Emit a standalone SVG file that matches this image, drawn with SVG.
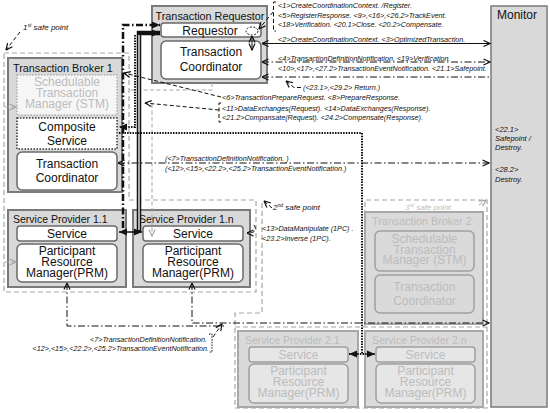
<svg xmlns="http://www.w3.org/2000/svg" width="550" height="413" viewBox="0 0 550 413">
<style>
text{font-family:"Liberation Sans",Arial,sans-serif;fill:#111}
.ti{font-size:10.8px}
.bg{font-size:12px;text-anchor:middle}
.lb{font-size:7.2px;font-style:italic}
.sp{font-size:8px;font-style:italic}
.fd{fill:#bcbcbc}
.outer{fill:#d9d9d9;stroke:#7a7a7a;stroke-width:2}
.outerf{fill:#dadada;stroke:#a8a8a8;stroke-width:2}
.inner{fill:#fff;stroke:#6a6a6a;stroke-width:1.5}
.innerf{fill:#e6e6e6;stroke:#a0a0a0;stroke-width:1.5}
.innerf2{fill:#dadada;stroke:#a0a0a0;stroke-width:1.5}
.region{fill:none;stroke:#a6a6a6;stroke-width:1.2;stroke-dasharray:5,3}
.c{fill:none;stroke:#111;stroke-width:1}
.dash{stroke-dasharray:4,2.5}
.dd{stroke-dasharray:7,2.5,1.5,2.5}
.dot{stroke-dasharray:1.5,1.2;stroke-width:2}
.g{stroke:#a6a6a6}
</style>
<defs>
<marker id="ao" viewBox="0 0 8 8" refX="7.5" refY="4" markerWidth="8" markerHeight="8" markerUnits="userSpaceOnUse" orient="auto-start-reverse"><path d="M1,1 L7.5,4 L1,7" fill="none" stroke="#111" stroke-width="1.2"/></marker>
<marker id="ag" viewBox="0 0 8 8" refX="7.5" refY="4" markerWidth="8" markerHeight="8" markerUnits="userSpaceOnUse" orient="auto-start-reverse"><path d="M1,1 L7.5,4 L1,7" fill="none" stroke="#a6a6a6" stroke-width="1.2"/></marker>
<marker id="as" viewBox="0 0 8 8" refX="8" refY="4" markerWidth="8" markerHeight="8" markerUnits="userSpaceOnUse" orient="auto-start-reverse"><path d="M0,0.5 L8,4 L0,7.5 z" fill="#111"/></marker>
</defs>

<!-- safe point regions -->
<g id="regions">
<path class="region" d="M4,53 H129 V200 H256 V292 H4 Z"/>
<path class="region" d="M262,203 V313 H235 V408 H487 V200 H365 V327"/>
<path class="region" d="M235,327 H487"/>
</g>

<g id="monitor">
<rect x="491" y="6" width="56" height="401" fill="#d9d9d9" stroke="#7a7a7a" stroke-width="1.5"/>
<text x="497" y="19" style="font-size:12px">Monitor</text>
<text class="lb" x="495" y="132" style="font-size:7.5px">&lt;22.1&gt;</text>
<text class="lb" x="495" y="141" style="font-size:7.5px">Safepoint /</text>
<text class="lb" x="495" y="150" style="font-size:7.5px">Destroy.</text>
<text class="lb" x="495" y="172" style="font-size:7.5px">&lt;28.2&gt;</text>
<text class="lb" x="495" y="182" style="font-size:7.5px">Destroy.</text>
</g>

<g id="transaction-requestor">
<rect class="outer" x="152" y="6" width="115" height="77"/>
<text class="ti" x="210" y="19.5" text-anchor="middle">Transaction Requestor</text>
<rect class="inner" x="161" y="23" width="100" height="14" rx="3"/>
<text class="bg" x="210" y="34.5">Requestor</text>
<rect class="inner" x="161" y="41" width="100" height="38" rx="5"/>
<text class="bg" x="211" y="56">Transaction</text>
<text class="bg" x="211" y="71">Coordinator</text>
</g>

<g id="transaction-broker-1">
<rect class="outer" x="8" y="58" width="114" height="134"/>
<text class="ti" x="13" y="72">Transaction Broker 1</text>
<rect x="17" y="75" width="100" height="40" fill="#f6f6f6" stroke="#b0b0b0" stroke-width="1.5" stroke-dasharray="1.5,1.5"/>
<text class="bg fd" x="67" y="86">Schedulable</text>
<text class="bg fd" x="67" y="97">Transaction</text>
<text class="bg fd" x="67" y="108">Manager (STM)</text>
<rect x="17" y="118" width="100" height="31" fill="#fff" stroke="#333" stroke-width="1.5" stroke-dasharray="1.5,1.5"/>
<text class="bg" x="67" y="131">Composite</text>
<text class="bg" x="67" y="145">Service</text>
<rect class="inner" x="17" y="152" width="100" height="38" rx="5"/>
<text class="bg" x="67" y="168">Transaction</text>
<text class="bg" x="67" y="182">Coordinator</text>
</g>

<g id="service-provider-1-1">
<rect class="outer" x="8" y="210" width="118" height="77"/>
<text class="ti" x="13" y="223" style="font-size:10.5px">Service Provider 1.1</text>
<rect class="inner" x="17" y="226" width="100" height="15" rx="3"/>
<text class="bg" x="67" y="238">Service</text>
<rect class="inner" x="17" y="244" width="100" height="38" rx="5"/>
<text class="bg" x="67" y="254.5">Participant</text>
<text class="bg" x="67" y="265.5">Resource</text>
<text class="bg" x="67" y="276.5">Manager(PRM)</text>
</g>

<g id="service-provider-1-n">
<rect class="outer" x="133" y="210" width="117" height="77"/>
<text class="ti" x="139" y="223" style="font-size:10.5px">Service Provider 1.n</text>
<rect class="inner" x="143" y="226" width="100" height="15" rx="3"/>
<text class="bg" x="193" y="238">Service</text>
<rect class="inner" x="143" y="244" width="100" height="38" rx="5"/>
<text class="bg" x="193" y="254.5">Participant</text>
<text class="bg" x="193" y="265.5">Resource</text>
<text class="bg" x="193" y="276.5">Manager(PRM)</text>
</g>

<g id="transaction-broker-2">
<rect class="outerf" x="365" y="212" width="118" height="112"/>
<text class="ti fd" x="372" y="224.5">Transaction Broker 2</text>
<rect class="innerf2" x="375" y="231" width="99" height="40" rx="5"/>
<text class="bg fd" x="424.5" y="243">Schedulable</text>
<text class="bg fd" x="424.5" y="253.5">Transaction</text>
<text class="bg fd" x="424.5" y="264">Manager (STM)</text>
<rect class="innerf2" x="375" y="275" width="99" height="38" rx="5"/>
<text class="bg fd" x="424.5" y="291">Transaction</text>
<text class="bg fd" x="424.5" y="305">Coordinator</text>
</g>

<g id="service-provider-2-1">
<rect class="outerf" x="238" y="331" width="120" height="76"/>
<text class="ti fd" x="245" y="344" style="font-size:10.5px">Service Provider 2.1</text>
<rect class="innerf" x="249" y="347" width="99" height="15" rx="3"/>
<text class="bg fd" x="298.5" y="358.5">Service</text>
<rect class="innerf" x="249" y="364" width="99" height="39" rx="5"/>
<text class="bg fd" x="298.5" y="375">Participant</text>
<text class="bg fd" x="298.5" y="386">Resource</text>
<text class="bg fd" x="298.5" y="397">Manager(PRM)</text>
</g>

<g id="service-provider-2-n">
<rect class="outerf" x="365" y="331" width="118" height="76"/>
<text class="ti fd" x="372" y="344" style="font-size:10.5px">Service Provider 2.n</text>
<rect class="innerf" x="376" y="347" width="99" height="15" rx="3"/>
<text class="bg fd" x="425.5" y="358.5">Service</text>
<rect class="innerf" x="376" y="364" width="99" height="39" rx="5"/>
<text class="bg fd" x="425.5" y="375">Participant</text>
<text class="bg fd" x="425.5" y="386">Resource</text>
<text class="bg fd" x="425.5" y="397">Manager(PRM)</text>
</g>

<g id="connectors">
<!-- gray dashed -->
<path class="c dash g" d="M212,83 V90 H130"/>
<path class="c dash g" d="M152,104 V236" marker-end="url(#ag)"/>
<path class="c dash g" d="M5,107 H16" marker-end="url(#ag)"/>
<path class="c dash g" d="M5,262 H16" marker-end="url(#ag)"/>
<!-- requestor thick connectors -->
<path class="c dd" style="stroke-width:2.5" d="M123,228 V25 H160" marker-end="url(#as)"/>
<path class="c" style="stroke-width:4.5" d="M139,232 V33 H160" marker-end="url(#as)"/>
<path d="M139,35 V230" stroke="#fff" stroke-width="1.3"/>
<path class="c" style="stroke-width:1.5" d="M119,232 H142" marker-start="url(#as)" marker-end="url(#as)"/>
<path class="c dot" d="M135,35 V127 H119" marker-end="url(#as)"/>
<path class="c dot" d="M119,133 H362 V354"/>
<path class="c dot" d="M349,354 H375" marker-start="url(#as)" marker-end="url(#as)"/>
<!-- requestor / monitor -->
<ellipse cx="252" cy="31" rx="6" ry="4" fill="none" stroke="#111" stroke-width="1" stroke-dasharray="2,1.5"/>
<path class="c" d="M252,36 V50" marker-start="url(#ao)" marker-end="url(#ao)"/>
<path class="c dash" d="M276,2 H273.5 V31 H276"/>
<path class="c dash" d="M273,12 L259,29" marker-end="url(#ao)"/>
<path class="c" d="M262,43.5 H490" marker-start="url(#ao)" marker-end="url(#ao)"/>
<path class="c dd" d="M262,62 H490" marker-start="url(#ao)" marker-end="url(#ao)"/>
<path class="c dd" d="M262,77 H490" marker-start="url(#ao)"/>
<path class="c dash" d="M301,87.5 L294,87.5 L286,81" marker-end="url(#ao)"/>
<!-- broker 1 labels -->
<path class="c dash" d="M221,97 L124,73" marker-end="url(#ao)"/>
<path class="c dash" d="M221,103 H219 V122 H221"/>
<path class="c dash" d="M219,110 L145,103" marker-end="url(#ao)"/>
<path class="c dd" d="M118,163 H489" marker-start="url(#ao)" marker-end="url(#ao)"/>
<!-- service provider 1.n local -->
<path class="c dash" d="M254,225 Q259,233 247,233" marker-end="url(#ao)"/>
<!-- PRM notifications -->
<path class="c dd" d="M67,283 V326 H226" marker-start="url(#ao)"/>
<path class="c dd" d="M192,283 V323 H489" marker-start="url(#ao)" marker-end="url(#ao)"/>
<path class="c" style="stroke-dasharray:1.5,1.2" d="M209,334 H212 V352 H209"/>
<path class="c dash" d="M213,337 L222,324" marker-end="url(#ao)"/>
<!-- safe point pointers -->
<path class="c dash" d="M20,32 L6,50" marker-end="url(#ao)"/>
<path class="c dash" d="M272,208 L264,201" marker-end="url(#ao)"/>
<path class="c dash g" d="M479,205 L486,200" marker-end="url(#ag)"/>
</g>

<g id="labels">
<text class="sp" x="23" y="30">1<tspan dy="-3" style="font-size:5px">st</tspan><tspan dy="3"> safe point</tspan></text>
<text class="sp" x="273" y="210">2<tspan dy="-3" style="font-size:5px">nd</tspan><tspan dy="3">  safe point</tspan></text>
<text class="sp fd" x="405" y="210">3<tspan dy="-3" style="font-size:5px">rd</tspan><tspan dy="3"> safe point</tspan></text>
<text class="lb" x="278" y="8">&lt;1&gt;CreateCoordinationContext. /Register.</text>
<text class="lb" x="278" y="17.5">&lt;5&gt;RegisterResponse. &lt;9&gt;,&lt;16&gt;,&lt;26.2&gt;TrackEvent.</text>
<text class="lb" x="278" y="27">&lt;18&gt;Verification. &lt;20.1&gt;Close. &lt;20.2&gt;Compensate.</text>
<text class="lb" x="278" y="41.5">&lt;2&gt;CreateCoordinationContext. &lt;3&gt;OptimizedTransaction.</text>
<text class="lb" x="278" y="61">&lt;4&gt;TransactionDefinitionNotification. &lt;19&gt;Verification.</text>
<text class="lb" x="278" y="70.5">&lt;10&gt;,&lt;17&gt;,&lt;27.2&gt;TransactionEventNotification. &lt;21.1&gt;Safepoint.</text>
<text class="lb" x="303" y="90">(&lt;23.1&gt;,&lt;29.2&gt; Return.)</text>
<text class="lb" x="222" y="100">&lt;6&gt;TransactionPrepareRequest. &lt;8&gt;PrepareResponse.</text>
<text class="lb" x="222" y="111">&lt;11&gt;DataExchanges(Request). &lt;14&gt;DataExchanges(Response).</text>
<text class="lb" x="222" y="120">&lt;21.2&gt;Compansate(Request).  &lt;24.2&gt;Compensate(Response).</text>
<text class="lb" x="165" y="161">(&lt;7&gt;TransactionDefinitionNotification. )</text>
<text class="lb" x="165" y="170.5">(&lt;12&gt;,&lt;15&gt;,&lt;22.2&gt;,&lt;25.2&gt;TransactionEventNotification.)</text>
<text class="lb" x="262" y="231">&lt;13&gt;DataManipulate (1PC) .</text>
<text class="lb" x="262" y="241">&lt;23.2&gt;Inverse (1PC).</text>
<text class="lb" x="207" y="342" text-anchor="end">&lt;7&gt;TransactionDefinitionNotification.</text>
<text class="lb" x="209" y="351" text-anchor="end">&lt;12&gt;,&lt;15&gt;,&lt;22.2&gt;,&lt;25.2&gt;TransactionEventNotification.</text>
</g>
</svg>
